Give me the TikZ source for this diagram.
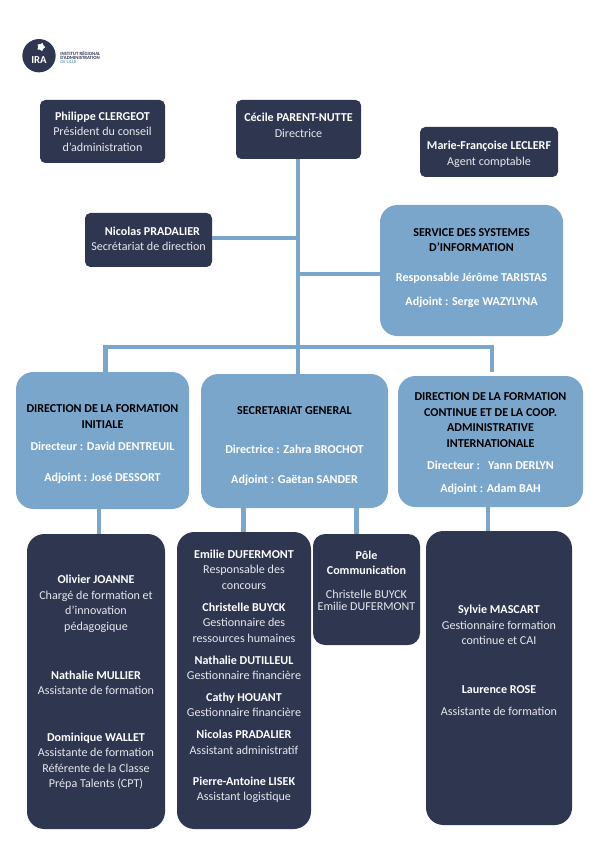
\documentclass[tikz,border=0pt]{standalone}
\usepackage{fontspec}
\setmainfont{Carlito}
\usetikzlibrary{shapes.geometric}
\definecolor{myblue}{HTML}{7BA6CC}
\definecolor{mydark}{HTML}{2F3650}
\definecolor{mysoft}{HTML}{E6E8EE}
\newcommand{\nm}[1]{{\bfseries\color{white}#1}}
\newcommand{\hd}[1]{{\bfseries\color{black}#1}}
\newcommand{\lowpad}[1]{\rule[-#1pt]{0pt}{#1pt}}
\newcommand{\highpad}[1]{\rule{0pt}{#1pt}}
\tikzset{
	defaultnode/.style={
			rectangle,
			align=center,
			inner sep=0pt,
			font=\fontsize{9.05}{11.6}\selectfont
		},
	boxsize/.style 2 args={
			minimum width=#1*0.75pt,
			minimum height=#2*0.75pt
		},
	darknode/.style={
			defaultnode,
			fill=mydark,
			text=mysoft,
			rounded corners=4pt
		},
	darkbignode/.style={
			darknode,
			rounded corners=13pt
		},
	bluenode/.style={
			defaultnode,
			fill=myblue,
			text=white,
			rounded corners=13pt
		},
	logotext/.style={
			inner sep=0pt,
			anchor=west,
			text=mydark,
			font=\bfseries\fontsize{3.6}{3.8}\selectfont
		},
	link/.style={
			draw=myblue,
			line width=3.2pt
		}
}
\begin{document}
\begin{tikzpicture}[x=0.75pt, y=-0.75pt]
\useasboundingbox (0,0) rectangle (595,841);

\node[circle, fill=mydark, minimum size=25pt, inner sep=0pt] (logo) at (39,55.7) {};
\node[star, star points=5, fill=white, minimum size=6.5pt, inner sep=0pt, rotate=-20] (logostar) at (41,47) {};
\node[inner sep=0pt, text=white, font=\bfseries\fontsize{8}{8}\selectfont] (logoira) at (39,60) {IRA};
\node[logotext] (logoa) at (60,53.8) {INSTITUT RÉGIONAL};
\node[logotext] (logob) at (60,57.8) {D’ADMINISTRATION};
\node[logotext, text=myblue] (logoc) at (60,62.3) {DE LILLE};

\node[darknode, boxsize={125}{63}] (clergeot) at (102.5,131.5) {\nm{Philippe CLERGEOT}\\Président du conseil\\d’administration};
\node[darknode, boxsize={125}{59}] (parent) at (298.5,129.5) {\nm{Cécile PARENT-NUTTE}\\Directrice\lowpad{6}};
\node[darknode, boxsize={138}{50}] (leclerf) at (489,152) {\highpad{10}\nm{Marie-Françoise LECLERF}\\Agent comptable};
\node[darknode, boxsize={127}{54}] (pradalier) at (148.5,240) {\hspace*{6pt}\nm{Nicolas PRADALIER}\\Secrétariat de direction\lowpad{2}};

\node[bluenode, boxsize={183}{131}] (ssi) at (471.5,270.5) {\hd{SERVICE DES SYSTEMES}\\\hd{D’INFORMATION}\\[11pt]\nm{Responsable Jérôme TARISTAS}\\[6.4pt]\nm{Adjoint : Serge WAZYLYNA}\lowpad{5}};
\node[bluenode, boxsize={173}{137}] (dfi) at (102.5,440.5) {\highpad{11}\hd{DIRECTION DE LA FORMATION}\\\hd{INITIALE}\\[5.6pt]\nm{Directeur : David DENTREUIL}\\[11pt]\nm{Adjoint : José DESSORT}};
\node[bluenode, boxsize={187}{134}] (sg) at (294.5,441) {\highpad{13.5}\hd{SECRETARIAT GENERAL}\\[17.6pt]\nm{Directrice : Zahra BROCHOT}\\[11pt]\nm{Adjoint : Gaëtan SANDER}};
\node[bluenode, boxsize={185}{131}] (dfc) at (490.5,441.5) {\highpad{9}\hd{DIRECTION DE LA FORMATION}\\\hd{CONTINUE ET DE LA COOP.}\\\hd{ADMINISTRATIVE}\\\hd{INTERNATIONALE}\\[5pt]\nm{Directeur :~~~Yann DERLYN}\\[5.5pt]\nm{Adjoint : Adam BAH}};

\node[darkbignode, boxsize={138}{295}] (joanne) at (96,681.5) {\highpad{8}\nm{Olivier JOANNE}\\Chargé de formation et\\d’innovation\\pédagogique\\[25pt]\nm{Nathalie MULLIER}\\Assistante de formation\\[23.6pt]\nm{Dominique WALLET}\\Assistante de formation\\Référente de la Classe\\Prépa Talents (CPT)};
\node[darkbignode, boxsize={134}{297}] (dufermont) at (244,680.5) {\nm{Emilie DUFERMONT}\\Responsable des\\concours\\[4.9pt]\nm{Christelle BUYCK}\\Gestionnaire des\\ressources humaines\\[4.9pt]\nm{Nathalie DUTILLEUL}\\Gestionnaire financière\\[4.9pt]\nm{Cathy HOUANT}\\Gestionnaire financière\\[4.9pt]\nm{Nicolas PRADALIER}\\Assistant administratif\\[11.5pt]\nm{Pierre-Antoine LISEK}\\Assistant logistique\lowpad{8}};
\node[darkbignode, rounded corners=9pt, boxsize={107}{111}] (pole) at (366.5,589.5) {\nm{Pôle}\\\nm{Communication}\\[6pt]Christelle BUYCK\\[-2pt]Emilie DUFERMONT\lowpad{13}};
\node[darkbignode, boxsize={146}{294}] (mascart) at (499,678) {\nm{Sylvie MASCART}\\Gestionnaire formation\\continue et CAI\\[25pt]\nm{Laurence ROSE}\\[5pt]Assistante de formation\lowpad{26}};

\coordinate (trunk) at (298,347);
\coordinate (busleft) at (105.5,347);
\coordinate (busright) at (492,347);
\coordinate (busrightend) at (492,372);
\coordinate (pradalierjoin) at (298,238);
\coordinate (ssijoin) at (298,274);
\coordinate (dropjoanne) at (99,520);
\coordinate (dropdufermont) at (243.5,520);
\coordinate (droppole) at (356.5,520);
\coordinate (dropmascart) at (488,520);

\draw[link] (parent.south -| trunk) -- (trunk);
\draw[link] (pradalierjoin) -- (pradalierjoin -| pradalier.east);
\draw[link] (ssijoin) -- (ssijoin -| ssi.west);
\draw[link] (dfi.north -| busleft) -- (busleft) -- (busright) -- (busrightend);
\draw[link] (trunk) -- (trunk |- sg.north);

\draw[link] (dropjoanne |- dfi.south) -- (dropjoanne |- joanne.north);
\draw[link] (dropdufermont |- sg.south) -- (dropdufermont |- dufermont.north);
\draw[link] (droppole |- sg.south) -- (droppole |- pole.north);
\draw[link] (dropmascart |- dfc.south) -- (dropmascart |- mascart.north);
\end{tikzpicture}
\end{document}
